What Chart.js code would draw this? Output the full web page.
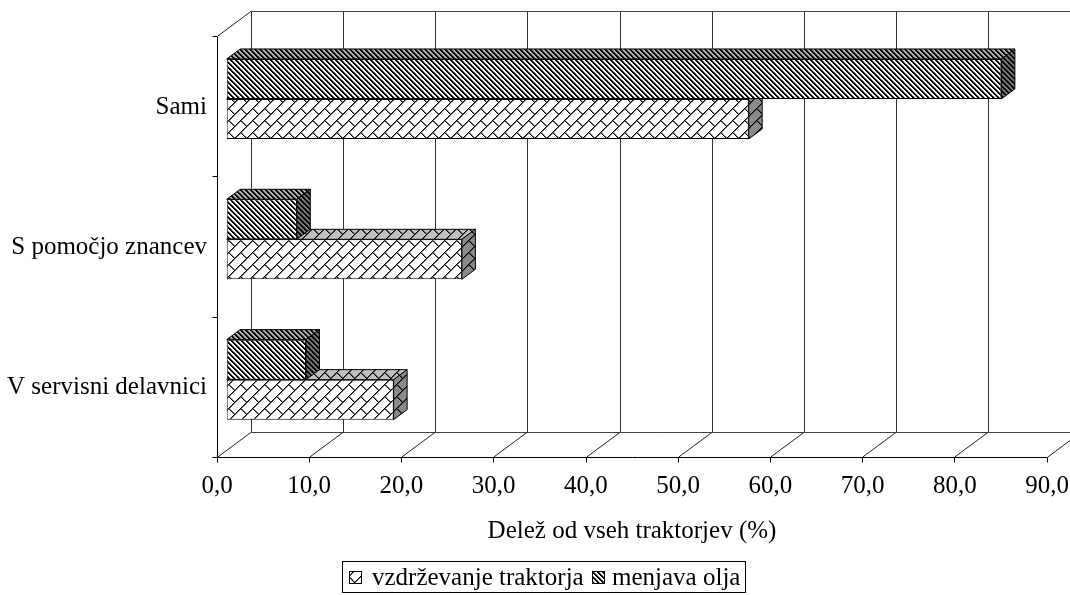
<!DOCTYPE html>
<html>
<head>
<meta charset="utf-8">
<script src="https://cdn.jsdelivr.net/npm/chart.js@4.4.1/dist/chart.umd.min.js"></script>
<style>
  html, body { margin: 0; padding: 0; background: #fff; }
  #wrap { width: 1070px; height: 595px; position: relative; }
  .probe { position: absolute; left: -9999px; top: 0; font: 25px "Liberation Serif"; }
</style>
</head>
<body>
<span class="probe">Delež vzdrževanje 0,0</span>
<div id="wrap"><canvas id="c" width="1070" height="595"></canvas></div>
<script>
// --- data ---
const categories = ['Sami', 'S pomočjo znancev', 'V servisni delavnici'];
const seriesNames = ['vzdrževanje traktorja', 'menjava olja'];
const maintenance = [56.6, 25.5, 18.1];
const oilChange = [84.0, 7.6, 8.6];
const tickValues = [0, 10, 20, 30, 40, 50, 60, 70, 80, 90];
const tickLabels = ['0,0', '10,0', '20,0', '30,0', '40,0', '50,0', '60,0', '70,0', '80,0', '90,0'];
const axisTitle = 'Delež od vseh traktorjev (%)';

const FONT = '25px "Liberation Serif", "Times New Roman", Tinos, serif';

const canvas = document.getElementById('c');
const ctx = canvas.getContext('2d');

// --- hatch patterns ---
// diagonal brick: long "/" courses with staggered "\" joints
function brickPattern(bg) {
  const P = 12, B = 24, T = 24;
  const t = document.createElement('canvas');
  t.width = T; t.height = T;
  const g = t.getContext('2d');
  const img = g.createImageData(T, T);
  const bgc = hex(bg);
  for (let y = 0; y < T; y++) {
    for (let x = 0; x < T; x++) {
      const u = x + y, v = x - y;
      const k = Math.floor(u / P);
      const um = ((u % P) + P) % P;
      const vm = (((v - (k % 2) * B / 2) % B) + B) % B;
      let c = bgc;
      if (um === 0) c = [0, 0, 0];
      else if (um === 1) c = mix(bgc, [0, 0, 0], 0.55);
      else if (vm === 0) c = [0, 0, 0];
      else if (vm === 1) c = mix(bgc, [0, 0, 0], 0.5);
      const i = (y * T + x) * 4;
      img.data[i] = c[0]; img.data[i + 1] = c[1]; img.data[i + 2] = c[2]; img.data[i + 3] = 255;
    }
  }
  g.putImageData(img, 0, 0);
  return ctx.createPattern(t, 'repeat');
}

// "\" stripes
function stripePattern(bg) {
  const T = 5;
  const t = document.createElement('canvas');
  t.width = T; t.height = T;
  const g = t.getContext('2d');
  const img = g.createImageData(T, T);
  const bgc = hex(bg);
  for (let y = 0; y < T; y++) {
    for (let x = 0; x < T; x++) {
      const s = (((x - y) % T) + T) % T;
      let c = bgc;
      if (s === 0 || s === 1) c = [0, 0, 0];
      else if (s === 2) c = mix(bgc, [0, 0, 0], 0.5);
      const i = (y * T + x) * 4;
      img.data[i] = c[0]; img.data[i + 1] = c[1]; img.data[i + 2] = c[2]; img.data[i + 3] = 255;
    }
  }
  g.putImageData(img, 0, 0);
  return ctx.createPattern(t, 'repeat');
}

function hex(h) {
  const n = parseInt(h.slice(1), 16);
  return [(n >> 16) & 255, (n >> 8) & 255, n & 255];
}
function mix(a, b, f) {
  return [0, 1, 2].map(i => Math.round(a[i] * (1 - f) + b[i] * f));
}

const fills = {
  maint: { front: brickPattern('#ffffff'), top: brickPattern('#c0c0c0'), side: brickPattern('#8a8a8a') },
  oil:   { front: stripePattern('#ffffff'), top: stripePattern('#b4b4b4'), side: stripePattern('#7a7a7a') }
};

// --- 3D geometry (offsets relative to the plane of the bar fronts) ---
const FRONT = { dx: -9.7, dy: 7.2 };   // floor front edge / axis plane
const BACK  = { dx: 24.0, dy: -17.8 }; // back wall plane
const DEPTH = { dx: 13.5, dy: -10 };   // extrusion of each bar

function poly(c, pts, fill) {
  c.beginPath();
  c.moveTo(pts[0][0], pts[0][1]);
  for (let i = 1; i < pts.length; i++) c.lineTo(pts[i][0], pts[i][1]);
  c.closePath();
  c.fillStyle = fill;
  c.fill();
  c.lineWidth = 1;
  c.strokeStyle = '#000';
  c.stroke();
}

function line(c, x1, y1, x2, y2, color) {
  c.beginPath();
  c.moveTo(x1, y1);
  c.lineTo(x2, y2);
  c.strokeStyle = color;
  c.lineWidth = 1;
  c.stroke();
}

const frame3d = {
  id: 'frame3d',
  beforeDatasetsDraw(chart) {
    const c = chart.ctx;
    const ca = chart.chartArea;
    const xs = chart.scales.x;
    const px = v => Math.round(xs.getPixelForValue(v));
    const x0f = px(0) + FRONT.dx, yTf = ca.top + FRONT.dy, yBf = ca.bottom + FRONT.dy;
    const x0b = px(0) + BACK.dx, yTb = ca.top + BACK.dy, yBb = ca.bottom + BACK.dy;
    const xEndF = px(tickValues[tickValues.length - 1]) + FRONT.dx;
    const xEndB = px(tickValues[tickValues.length - 1]) + BACK.dx;
    const a = v => Math.round(v) + 0.5;

    c.save();
    // back wall
    line(c, a(x0b), a(yTb), xEndB + 40, a(yTb), '#444');
    tickValues.forEach(v => {
      const xb = a(px(v) + BACK.dx);
      line(c, xb, a(yTb), xb, a(yBb), '#333');
    });
    // floor
    line(c, a(x0b), a(yBb), xEndB + 40, a(yBb), '#444');
    tickValues.forEach(v => {
      line(c, px(v) + FRONT.dx + 0.5, yBf, px(v) + BACK.dx + 0.5, yBb, '#222');
    });
    // left wall top edge
    line(c, x0f + 0.5, yTf, x0b + 0.5, yTb, '#222');
    // front axes
    line(c, a(x0f), a(yTf), a(x0f), a(yBf), '#000');
    line(c, a(x0f), a(yBf), a(xEndF), a(yBf), '#000');
    for (let i = 0; i <= categories.length; i++) {
      const y = a(yTf + i * (yBf - yTf) / categories.length);
      line(c, a(x0f) - 5, y, a(x0f), y, '#000');
    }
    tickValues.forEach(v => {
      const x = a(px(v) + FRONT.dx);
      line(c, x, a(yBf), x, a(yBf) + 5, '#000');
    });

    // bar tops and sides: lower bars first so upper fronts cover them
    const order = [1, 0];
    order.forEach(di => {
      const meta = chart.getDatasetMeta(di);
      const f = di === 0 ? fills.oil : fills.maint;
      meta.data.forEach(bar => {
        const p = bar.getProps(['x', 'y', 'base', 'height'], true);
        const top = p.y - p.height / 2, bot = p.y + p.height / 2;
        poly(c, [[p.base, top], [p.base + DEPTH.dx, top + DEPTH.dy], [p.x + DEPTH.dx, top + DEPTH.dy], [p.x, top]], f.top);
        poly(c, [[p.x, top], [p.x + DEPTH.dx, top + DEPTH.dy], [p.x + DEPTH.dx, bot + DEPTH.dy], [p.x, bot]], f.side);
      });
    });
    c.restore();
  },
  afterDraw(chart) {
    const c = chart.ctx;
    const ca = chart.chartArea;
    const xs = chart.scales.x, ys = chart.scales.y;
    const yBf = ca.bottom + FRONT.dy;
    c.save();
    c.fillStyle = '#000';
    c.font = FONT;

    // category labels
    c.textAlign = 'right';
    c.textBaseline = 'middle';
    categories.forEach((name, i) => {
      c.fillText(name, 207, ys.getPixelForValue(i) + FRONT.dy + 1);
    });

    // value tick labels
    c.textAlign = 'center';
    tickValues.forEach((v, i) => {
      c.fillText(tickLabels[i], xs.getPixelForValue(v) + FRONT.dx, yBf + 29);
    });

    // axis title
    const x0f = xs.getPixelForValue(0) + FRONT.dx;
    const x9f = xs.getPixelForValue(tickValues[tickValues.length - 1]) + FRONT.dx;
    c.fillText(axisTitle, (x0f + x9f) / 2, 531);

    // legend
    const lx = 342, ly = 561, lw = 403, lh = 31;
    c.lineWidth = 1;
    c.strokeStyle = '#000';
    c.strokeRect(lx + 0.5, ly + 0.5, lw, lh);
    const items = [
      { name: seriesNames[0], fill: fills.maint.front, sx: 349, tx: 372 },
      { name: seriesNames[1], fill: fills.oil.front, sx: 592, tx: 612 }
    ];
    c.textAlign = 'left';
    items.forEach(it => {
      c.fillStyle = it.fill;
      c.fillRect(it.sx, 571, 13, 13);
      c.strokeRect(it.sx + 0.5, 571.5, 12, 12);
      c.fillStyle = '#000';
      c.fillText(it.name, it.tx, 578);
    });
    c.restore();
  }
};

function build() {
  new Chart(ctx, {
    type: 'bar',
    data: {
      labels: categories,
      datasets: [
        {
          label: seriesNames[1],
          data: oilChange,
          backgroundColor: fills.oil.front,
          borderColor: '#000',
          borderWidth: 1,
          borderSkipped: false,
          categoryPercentage: 0.57,
          barPercentage: 1.0
        },
        {
          label: seriesNames[0],
          data: maintenance,
          backgroundColor: fills.maint.front,
          borderColor: '#000',
          borderWidth: 1,
          borderSkipped: false,
          categoryPercentage: 0.57,
          barPercentage: 1.0
        }
      ]
    },
    options: {
      indexAxis: 'y',
      responsive: false,
      animation: false,
      devicePixelRatio: 1,
      layout: { padding: { left: 226.7, right: 13.3, top: 28.8, bottom: 145.2 } },
      scales: {
        x: { display: false, min: 0, max: 90 },
        y: { display: false }
      },
      plugins: {
        legend: { display: false },
        tooltip: { enabled: false }
      }
    },
    plugins: [frame3d]
  });
}

// make sure the serif face is ready before the canvas text is drawn
Promise.all([
  document.fonts.load('25px "Liberation Serif"', 'Delež'),
  document.fonts.ready
]).then(build, build);
</script>
</body>
</html>
